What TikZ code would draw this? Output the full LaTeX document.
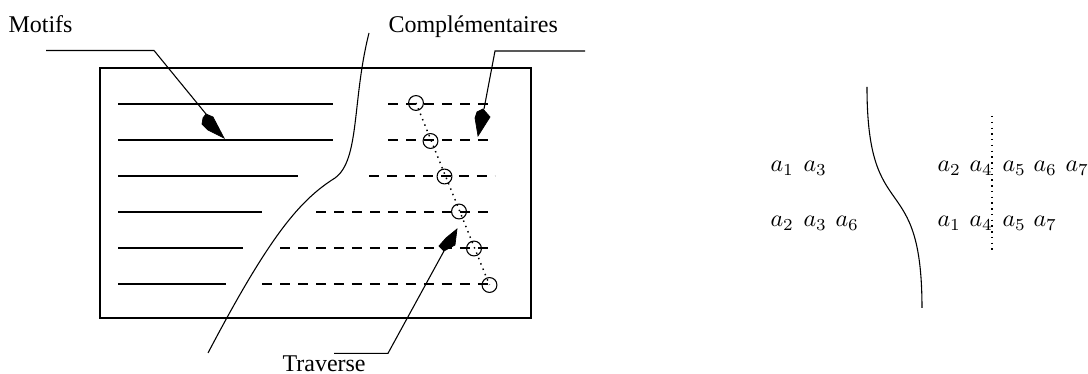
\documentclass[tikz,border=0pt]{standalone}
\usepackage{fontspec}
\setmainfont{Liberation Serif}
\begin{document}
\begin{tikzpicture}[x=0.41667pt,y=-0.41667pt,line width=0.45pt,
  lbl/.style={anchor=base west,inner sep=0pt,font=\fontsize{10}{12}\selectfont},
  sym/.style={anchor=base west,inner sep=0pt},
  compl/.style={dash pattern=on 4pt off 3.5pt},
  ring/.style={circle,draw,inner sep=0pt,minimum size=6.2pt},
  pointer/.style={fill=black,draw=black,line width=0.3pt},
  traverse/.style={line width=0.6pt,dash pattern=on 0.6pt off 1.8pt}]
\useasboundingbox (0,0) rectangle (1088,374);

% ---------------- left panel: the sheet ----------------
\draw (100,68) rectangle (531,318);

% motifs (solid rows)
\foreach \y/\xe [count=\i] in {104/333,140/333,176/298,212/262,248/243,284/226}
  \draw (118,\y) coordinate (m\i a) -- (\xe,\y) coordinate (m\i b);

% complementary rows (dashed)
\foreach \y/\xs [count=\i] in {104/388,140/388,176/369,212/316,248/280,284/262}
  \draw[compl] (\xs,\y) coordinate (c\i a) -- (495,\y) coordinate (c\i b);

% rings on the complementary rows
\node[ring] (r1) at (416,103) {};
\node[ring] (r2) at (430.5,141) {};
\node[ring] (r3) at (444.5,176.5) {};
\node[ring] (r4) at (459,211.5) {};
\node[ring] (r5) at (474,248.5) {};
\node[ring] (r6) at (489.5,285) {};
\draw[traverse] (r1.center) -- (r6.center);

% cutting curve
\draw (208,353) .. controls (270,235) and (300,200) .. (335,178)
      .. controls (360,160) and (352,100) .. (369,33);

% labels
\node[lbl] (motifs) at (8,33) {Motifs};
\node[lbl] (compltxt) at (388,33) {Complémentaires};
\node[lbl] (travtxt) at (282,372) {Traverse};

% leader for Motifs
\coordinate (mA) at (46,50.5);
\coordinate (mB) at (154,50.5);
\coordinate (mT) at (206,114);
\draw (mA) -- (mB) -- (mT);
\fill[pointer] (206,114) -- (213,117) -- (224,138) -- (208,130) -- (202,124) -- (203,118) -- cycle;

% leader for Complementaires
\coordinate (cA) at (585,51);
\coordinate (cB) at (495,51);
\coordinate (cT) at (484,109);
\draw (cA) -- (cB) -- (cT);
\fill[pointer] (483,109) -- (490,117) -- (478,136) -- (475,118) -- (477,112) -- cycle;

% leader for Traverse
\coordinate (tA) at (334,353.3);
\coordinate (tB) at (388,353.3);
\coordinate (tT) at (444,251);
\draw (tA) -- (tB) -- (tT);
\fill[pointer] (457,229) -- (455,245) -- (444,251) -- (439,246) -- (446,238) -- cycle;

% ---------------- right panel: the split ----------------
\draw (867,87) .. controls (867,230) and (922,165) .. (922,308);
\coordinate (dtop) at (992,116);
\coordinate (dbot) at (992,253);
\draw[traverse] (dtop) -- (dbot);

\node[sym] (l11) at (770,172) {$a_1$};
\node[sym] (l12) at (803,172) {$a_3$};
\node[sym] (l21) at (770,227) {$a_2$};
\node[sym] (l22) at (803,227) {$a_3$};
\node[sym] (l23) at (835,227) {$a_6$};

\node[sym] (r11) at (937,172) {$a_2$};
\node[sym] (r12) at (969,172) {$a_4$};
\node[sym] (r13) at (1002,172) {$a_5$};
\node[sym] (r14) at (1033,172) {$a_6$};
\node[sym] (r15) at (1065,172) {$a_7$};
\node[sym] (r21) at (937,227) {$a_1$};
\node[sym] (r22) at (969,227) {$a_4$};
\node[sym] (r23) at (1002,227) {$a_5$};
\node[sym] (r24) at (1033,227) {$a_7$};
\end{tikzpicture}
\end{document}
